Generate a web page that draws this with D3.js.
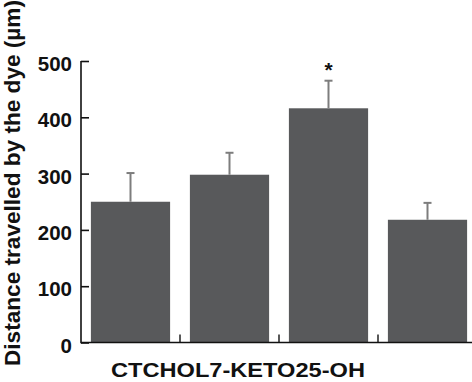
<!DOCTYPE html>
<html><head><meta charset="utf-8">
<script src="https://cdn.jsdelivr.net/npm/d3@7"></script>
<style>body{margin:0;background:#fff;} svg{display:block;} text{font-family:"Liberation Sans",Arial,sans-serif;font-weight:bold;}</style>
</head><body>
<script>
const categories = ["CT", "CHOL", "7-KETO", "25-OH"];
const values = [250, 298, 416, 218];
const errors = [51, 39, 49, 30];
const significant = [false, false, true, false];
const yTicks = [0, 100, 200, 300, 400, 500];
const xLabel = "CTCHOL7-KETO25-OH";
const yLabel = "Distance travelled by the dye (µm)";

const W = 472, H = 382;
const svg = d3.select("body").append("svg").attr("width", W).attr("height", H);
const x0 = 81, y0 = 342.5;
const x = d3.scaleBand().domain(categories).range([x0, 477]).paddingInner(0.2).paddingOuter(0.1);
const y = d3.scaleLinear().domain([0, 500]).range([y0, 61]);

// bars
svg.selectAll("rect.bar").data(categories).enter().append("rect")
  .attr("x", d => x(d)).attr("width", x.bandwidth())
  .attr("y", (d, i) => y(values[i])).attr("height", (d, i) => y0 - y(values[i]))
  .attr("fill", "#58595b");

// error bars
const eg = svg.append("g").attr("stroke", "#7d7d7d").attr("stroke-width", 2);
categories.forEach((c, i) => {
  const cx = x(c) + x.bandwidth() / 2;
  eg.append("line").attr("x1", cx).attr("x2", cx).attr("y1", y(values[i])).attr("y2", y(values[i] + errors[i]));
  eg.append("line").attr("x1", cx - 4).attr("x2", cx + 4).attr("y1", y(values[i] + errors[i])).attr("y2", y(values[i] + errors[i]));
  if (significant[i]) {
    svg.append("text").attr("x", cx).attr("y", y(values[i] + errors[i]) - 3.5)
      .attr("text-anchor", "middle").attr("font-size", 21).attr("fill", "#111").text("*");
  }
});

// y axis
const yAxis = d3.axisRight(y).tickValues(yTicks).tickSize(8).tickFormat("");
const ya = svg.append("g").attr("transform", `translate(${x0},0)`).call(yAxis);
ya.select(".domain").remove();
ya.selectAll(".tick line").attr("stroke", "#111").attr("stroke-width", 1.6);
svg.append("line").attr("x1", x0).attr("x2", x0).attr("y1", y(500)).attr("y2", y0 + 0.8)
  .attr("stroke", "#111").attr("stroke-width", 1.6);
svg.selectAll("text.ytl").data(yTicks).enter().append("text").attr("class", "ytl")
  .attr("x", 72).attr("y", d => y(d) + 10).attr("text-anchor", "end")
  .attr("font-size", 20.5).attr("fill", "#111").text(d => d);

// x axis
svg.append("line").attr("x1", x0).attr("x2", W).attr("y1", y0).attr("y2", y0)
  .attr("stroke", "#111").attr("stroke-width", 1.6);
const step = x.step();
categories.slice(1).forEach(c => {
  const bx = x(c) - (step - x.bandwidth()) / 2;
  svg.append("line").attr("x1", bx).attr("x2", bx).attr("y1", y0).attr("y2", y0 - 8)
    .attr("stroke", "#111").attr("stroke-width", 1.4);
});

svg.append("text").attr("x", 111).attr("y", 377).attr("font-size", 21).attr("fill", "#111")
  .attr("textLength", 254).attr("lengthAdjust", "spacingAndGlyphs").text(xLabel);

svg.append("text").attr("transform", "translate(20,366) rotate(-90)")
  .attr("x", 0).attr("y", 0).attr("font-size", 22.5).attr("fill", "#111")
  .attr("textLength", 366).attr("lengthAdjust", "spacingAndGlyphs").text(yLabel);
</script>
</body></html>
